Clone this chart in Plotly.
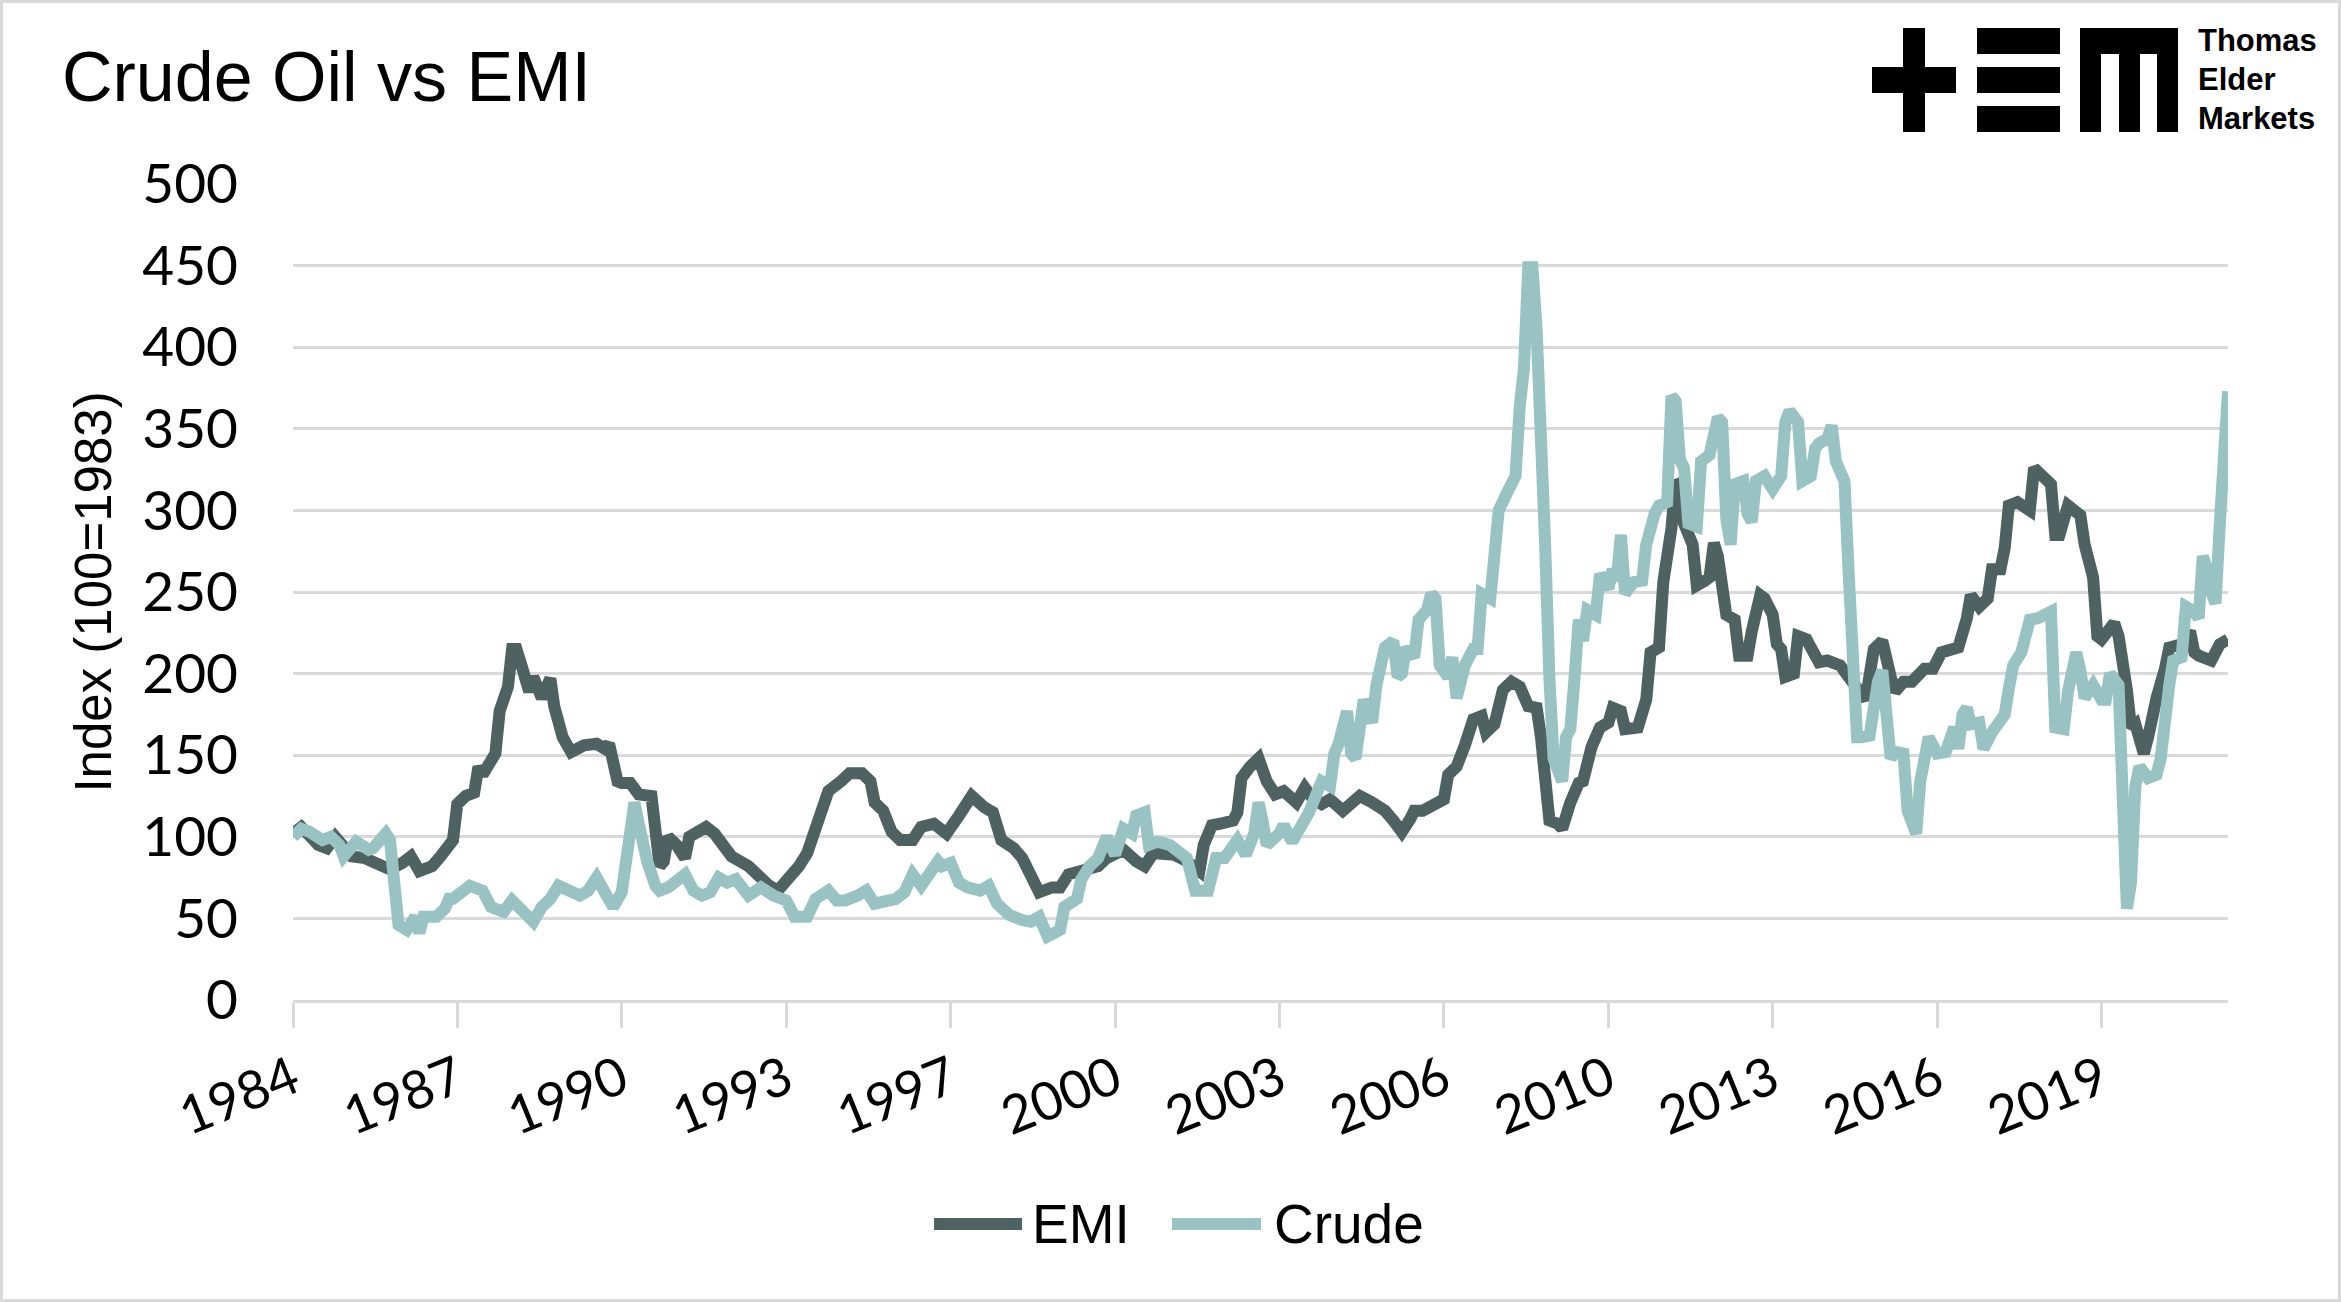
import pandas as pd
import plotly.graph_objects as go

# ---------------- data (month offsets from Jan 1984, index 100 = 1983) ----------------
emi_months = [0, 2, 6, 8, 10, 14, 17, 20, 23, 26, 28, 30, 33, 35, 38, 39, 41, 43, 44, 45,
              48, 49, 51, 52, 53, 54, 56, 57, 59, 61, 62, 64, 66, 69, 72, 74, 75, 77, 78, 80,
              82, 85, 87, 88, 89, 91, 93, 94, 96, 98, 100, 102, 104, 108, 111, 113, 115, 118, 120, 122,
              123, 125, 127, 130, 132, 135, 137, 138, 140, 142, 144, 147, 149, 152, 155, 158, 161, 164, 166, 168,
              171, 173, 175, 177, 180, 182, 184, 187, 191, 193, 197, 200, 202, 204, 207, 209, 212, 215, 216, 218,
              220, 223, 224, 225, 227, 229, 231, 233, 235, 238, 240, 242, 244, 246, 249, 251, 253, 256, 258, 259,
              261, 263, 265, 266, 268, 271, 273, 274, 276, 278, 280, 282, 283, 285, 286, 287, 289, 291, 293, 295,
              296, 297, 298, 300, 301, 303, 305, 306, 308, 310, 312, 313, 315, 316, 319, 321, 322, 324, 325, 327,
              328, 329, 330, 332, 333, 335, 336, 337, 338, 340, 342, 343, 345, 346, 348, 349, 351, 352, 353, 354,
              356, 357, 359, 360, 362, 364, 367, 369, 371, 373, 375, 377, 379, 380, 382, 384, 387, 389, 391, 393,
              395, 397, 398, 400, 402, 403, 405, 406, 407, 409, 412, 413, 415, 417, 418, 419, 421, 424, 425, 426,
              427, 428, 429, 432, 433, 435, 436, 437, 439, 440, 441, 442, 444, 445, 448, 450, 451, 452, 455, 457,
              459]
emi_values = [102, 106, 95, 93, 100, 88, 87, 84, 80, 84, 88, 79, 82, 88, 98, 120, 125, 127, 143, 138,
              151, 177, 192, 215, 215, 207, 189, 198, 185, 197, 180, 161, 152, 156, 157, 154, 157, 134, 133, 133,
              126, 125, 82, 85, 100, 95, 87, 100, 103, 106, 102, 95, 88, 82, 74, 70, 67, 75, 82, 90,
              98, 110, 128, 134, 139, 139, 134, 121, 116, 103, 98, 98, 106, 108, 102, 113, 125, 118, 115, 98,
              93, 87, 75, 66, 69, 69, 77, 79, 82, 87, 92, 85, 82, 90, 89, 89, 85, 79, 95, 107,
              108, 110, 115, 136, 143, 148, 134, 126, 128, 121, 130, 123, 120, 123, 116, 121, 125, 121, 118, 116,
              110, 103, 111, 116, 116, 120, 123, 138, 143, 156, 172, 174, 164, 169, 185, 190, 195, 192, 180, 179,
              161, 131, 110, 108, 105, 121, 133, 134, 155, 167, 170, 179, 177, 166, 167, 184, 213, 216, 256, 289,
              318, 315, 292, 279, 254, 257, 259, 280, 272, 236, 233, 211, 211, 226, 248, 246, 236, 218, 215, 198,
              200, 223, 221, 216, 207, 208, 205, 198, 192, 184, 215, 220, 198, 189, 195, 195, 203, 203, 213, 215,
              216, 234, 248, 241, 246, 264, 264, 277, 303, 305, 300, 326, 320, 316, 285, 285, 303, 297, 279, 266,
              259, 223, 221, 231, 223, 190, 167, 169, 151, 161, 177, 185, 203, 216, 218, 226, 213, 211, 208, 218,
              221]

crude_months = [0, 2, 4, 7, 9, 11, 12, 15, 18, 19, 22, 23, 24, 25, 27, 29, 30, 31, 34, 36,
                37, 38, 42, 45, 47, 50, 52, 55, 57, 59, 61, 63, 65, 68, 70, 72, 74, 76, 78, 80,
                81, 82, 83, 84, 86, 87, 89, 91, 93, 95, 97, 99, 101, 103, 105, 108, 111, 114, 117, 119,
                122, 124, 127, 129, 131, 134, 136, 138, 141, 143, 145, 147, 149, 151, 153, 154, 156, 158, 160, 163,
                165, 167, 170, 173, 175, 177, 179, 182, 183, 186, 187, 189, 191, 193, 195, 197, 199, 200, 202, 203,
                205, 208, 210, 212, 214, 217, 219, 221, 224, 226, 228, 229, 230, 231, 234, 235, 237, 239, 241, 244,
                246, 247, 248, 250, 251, 252, 253, 254, 256, 257, 259, 261, 262, 263, 264, 266, 267, 269, 270, 271,
                272, 274, 275, 276, 278, 280, 281, 282, 284, 285, 286, 288, 290, 291, 292, 293, 294, 295, 296, 297,
                298, 299, 300, 301, 302, 303, 304, 305, 306, 307, 309, 310, 312, 313, 314, 315, 316, 318, 320, 321,
                323, 324, 326, 327, 328, 329, 330, 331, 333, 334, 336, 337, 338, 339, 340, 341, 342, 344, 345, 346,
                347, 349, 351, 353, 354, 355, 357, 358, 360, 361, 362, 364, 365, 366, 368, 369, 371, 372, 374, 376,
                377, 379, 380, 382, 383, 385, 386, 388, 390, 392, 394, 395, 396, 397, 398, 400, 401, 403, 406, 407,
                408, 410, 412, 414, 415, 417, 418, 420, 421, 423, 424, 425, 427, 429, 430, 431, 433, 434, 435, 436,
                437, 438, 440, 442, 443, 445, 446, 448, 449, 451, 452, 453, 454, 455, 456, 457, 458, 459]
crude_values = [100, 105, 103, 98, 100, 95, 88, 97, 92, 93, 102, 98, 72, 46, 43, 51, 41, 51, 51, 56,
                62, 62, 70, 67, 57, 54, 61, 52, 48, 57, 62, 70, 67, 64, 67, 75, 66, 57, 66, 111,
                121, 108, 93, 85, 70, 67, 69, 72, 77, 67, 64, 66, 75, 72, 74, 64, 69, 64, 61, 51,
                51, 62, 67, 61, 61, 64, 67, 59, 61, 62, 66, 77, 70, 77, 85, 82, 84, 72, 69, 67,
                70, 59, 52, 49, 48, 51, 39, 43, 57, 62, 74, 82, 87, 100, 89, 105, 102, 113, 115, 95,
                97, 95, 92, 87, 67, 67, 87, 87, 98, 89, 102, 121, 110, 95, 102, 107, 97, 105, 115, 134,
                131, 151, 157, 177, 151, 148, 162, 184, 170, 193, 216, 220, 198, 200, 216, 210, 233, 239, 249, 246,
                205, 198, 210, 185, 205, 215, 215, 249, 246, 269, 300, 311, 321, 364, 387, 449, 449, 410, 354, 279,
                197, 148, 141, 134, 161, 166, 197, 233, 220, 239, 236, 261, 252, 264, 257, 285, 249, 256, 257, 279,
                298, 303, 305, 370, 367, 331, 326, 292, 290, 330, 334, 344, 357, 354, 295, 279, 316, 318, 298, 293,
                318, 321, 313, 321, 354, 361, 354, 318, 321, 338, 341, 344, 352, 330, 318, 262, 161, 161, 162, 195,
                202, 148, 152, 151, 116, 102, 134, 161, 151, 152, 167, 154, 175, 179, 169, 170, 154, 164, 175, 191,
                205, 213, 233, 234, 236, 238, 167, 166, 189, 213, 202, 185, 193, 184, 184, 200, 193, 134, 56, 72,
                131, 143, 136, 138, 148, 193, 208, 210, 241, 238, 234, 272, 264, 250, 243, 292, 334, 373]

tick_months = [0, 39, 78, 117, 156, 195, 234, 273, 312, 351, 390, 429]
tick_labels = ["1984", "1987", "1990", "1993", "1997", "2000", "2003",
               "2006", "2010", "2013", "2016", "2019"]
last_month = 459
y_ticks = [0, 50, 100, 150, 200, 250, 300, 350, 400, 450, 500]

START = pd.Timestamp("1984-01-01")


def to_dates(months):
    return [(START + pd.DateOffset(months=int(m))).strftime("%Y-%m-%d") for m in months]


# ---------------- geometry ----------------
W, H = 2341, 1302
ML, MR, MT, MB = 293, 113, 184, 302
PW, PH = W - ML - MR, H - MT - MB


def px(x):
    return (x - ML) / PW


def py(y):
    return (H - MB - y) / PH


EMI_COL = "#4e6262"
CRUDE_COL = "#98c3c2"
GRID = "#d9d9d9"
TEXT_FONT = "Liberation Sans, Arial, sans-serif"
TICK_FONT = "Lato, Liberation Sans, sans-serif"
LW = 12

fig = go.Figure()
fig.add_trace(go.Scatter(x=to_dates(emi_months), y=emi_values, name="EMI", mode="lines",
                         line=dict(color=EMI_COL, width=LW), showlegend=False))
fig.add_trace(go.Scatter(x=to_dates(crude_months), y=crude_values, name="Crude", mode="lines",
                         line=dict(color=CRUDE_COL, width=LW), showlegend=False))

shapes = []
# outer border
shapes.append(dict(type="rect", xref="paper", yref="paper", x0=px(1.5), x1=px(W - 1.5),
                   y0=py(H - 1.5), y1=py(1.5), line=dict(color=GRID, width=3), layer="below"))


def rect(x0, x1, y0, y1, color="black"):
    shapes.append(dict(type="rect", xref="paper", yref="paper", x0=px(x0), x1=px(x1),
                       y0=py(y1), y1=py(y0), fillcolor=color, line=dict(width=0)))


# logo: + = m
rect(1903, 1925, 28, 132)
rect(1872, 1956, 67, 93)
rect(1977, 2060, 28, 54)
rect(1977, 2060, 67, 93)
rect(1977, 2060, 106, 132)
rect(2080, 2178, 28, 54)
rect(2080, 2101, 28, 132)
rect(2119, 2140, 28, 132)
rect(2157, 2178, 28, 132)

# legend keys
legend_y = 1224
for x0, x1, col in [(934, 1022, EMI_COL), (1172, 1261, CRUDE_COL)]:
    shapes.append(dict(type="line", xref="paper", yref="paper", x0=px(x0), x1=px(x1),
                       y0=py(legend_y), y1=py(legend_y), line=dict(color=col, width=LW)))

annotations = []
for txt, x in [("EMI", 1030), ("Crude", 1272)]:
    annotations.append(dict(text=txt, xref="paper", yref="paper", x=px(x), y=py(legend_y),
                            xanchor="left", yanchor="middle", showarrow=False,
                            font=dict(family=TEXT_FONT, size=55, color="black")))
for txt, yc in [("Thomas", 41), ("Elder", 79), ("Markets", 118)]:
    annotations.append(dict(text="<b>%s</b>" % txt, xref="paper", yref="paper", x=px(2196), y=py(yc),
                            xanchor="left", yanchor="middle", showarrow=False,
                            font=dict(family=TEXT_FONT, size=31, color="black")))

fig.update_layout(
    width=W, height=H,
    margin=dict(l=ML, r=MR, t=MT, b=MB, pad=0),
    paper_bgcolor="white", plot_bgcolor="white",
    title=dict(text="Crude Oil vs EMI", x=62 / W, xanchor="left", xref="container",
               y=1 - 76 / H, yanchor="middle", yref="container",
               font=dict(family=TEXT_FONT, size=70, color="black")),
    shapes=shapes, annotations=annotations,
    xaxis=dict(type="date", range=to_dates([0, last_month]),
               tickmode="array", tickvals=to_dates(tick_months), ticktext=tick_labels,
               tickangle=-22, ticks="outside", ticklen=25, tickwidth=3, tickcolor=GRID,
               showline=True, linecolor=GRID, linewidth=3, showgrid=False, zeroline=False,
               tickfont=dict(family=TICK_FONT, size=53, color="black"), automargin=False),
    yaxis=dict(range=[0, 500], tickmode="array", tickvals=y_ticks,
               showgrid=True, gridcolor=GRID, gridwidth=3, zeroline=False, showline=False,
               ticks="", ticklabelstandoff=54,
               tickfont=dict(family=TICK_FONT, size=55, color="black"),
               title=dict(text="Index (100=1983)", standoff=14,
                          font=dict(family=TEXT_FONT, size=51, color="black")),
               automargin=False),
)

fig.write_html("out.html", config={"displayModeBar": False},
               post_script="document.body.style.margin='0';document.body.style.overflow='hidden';")
